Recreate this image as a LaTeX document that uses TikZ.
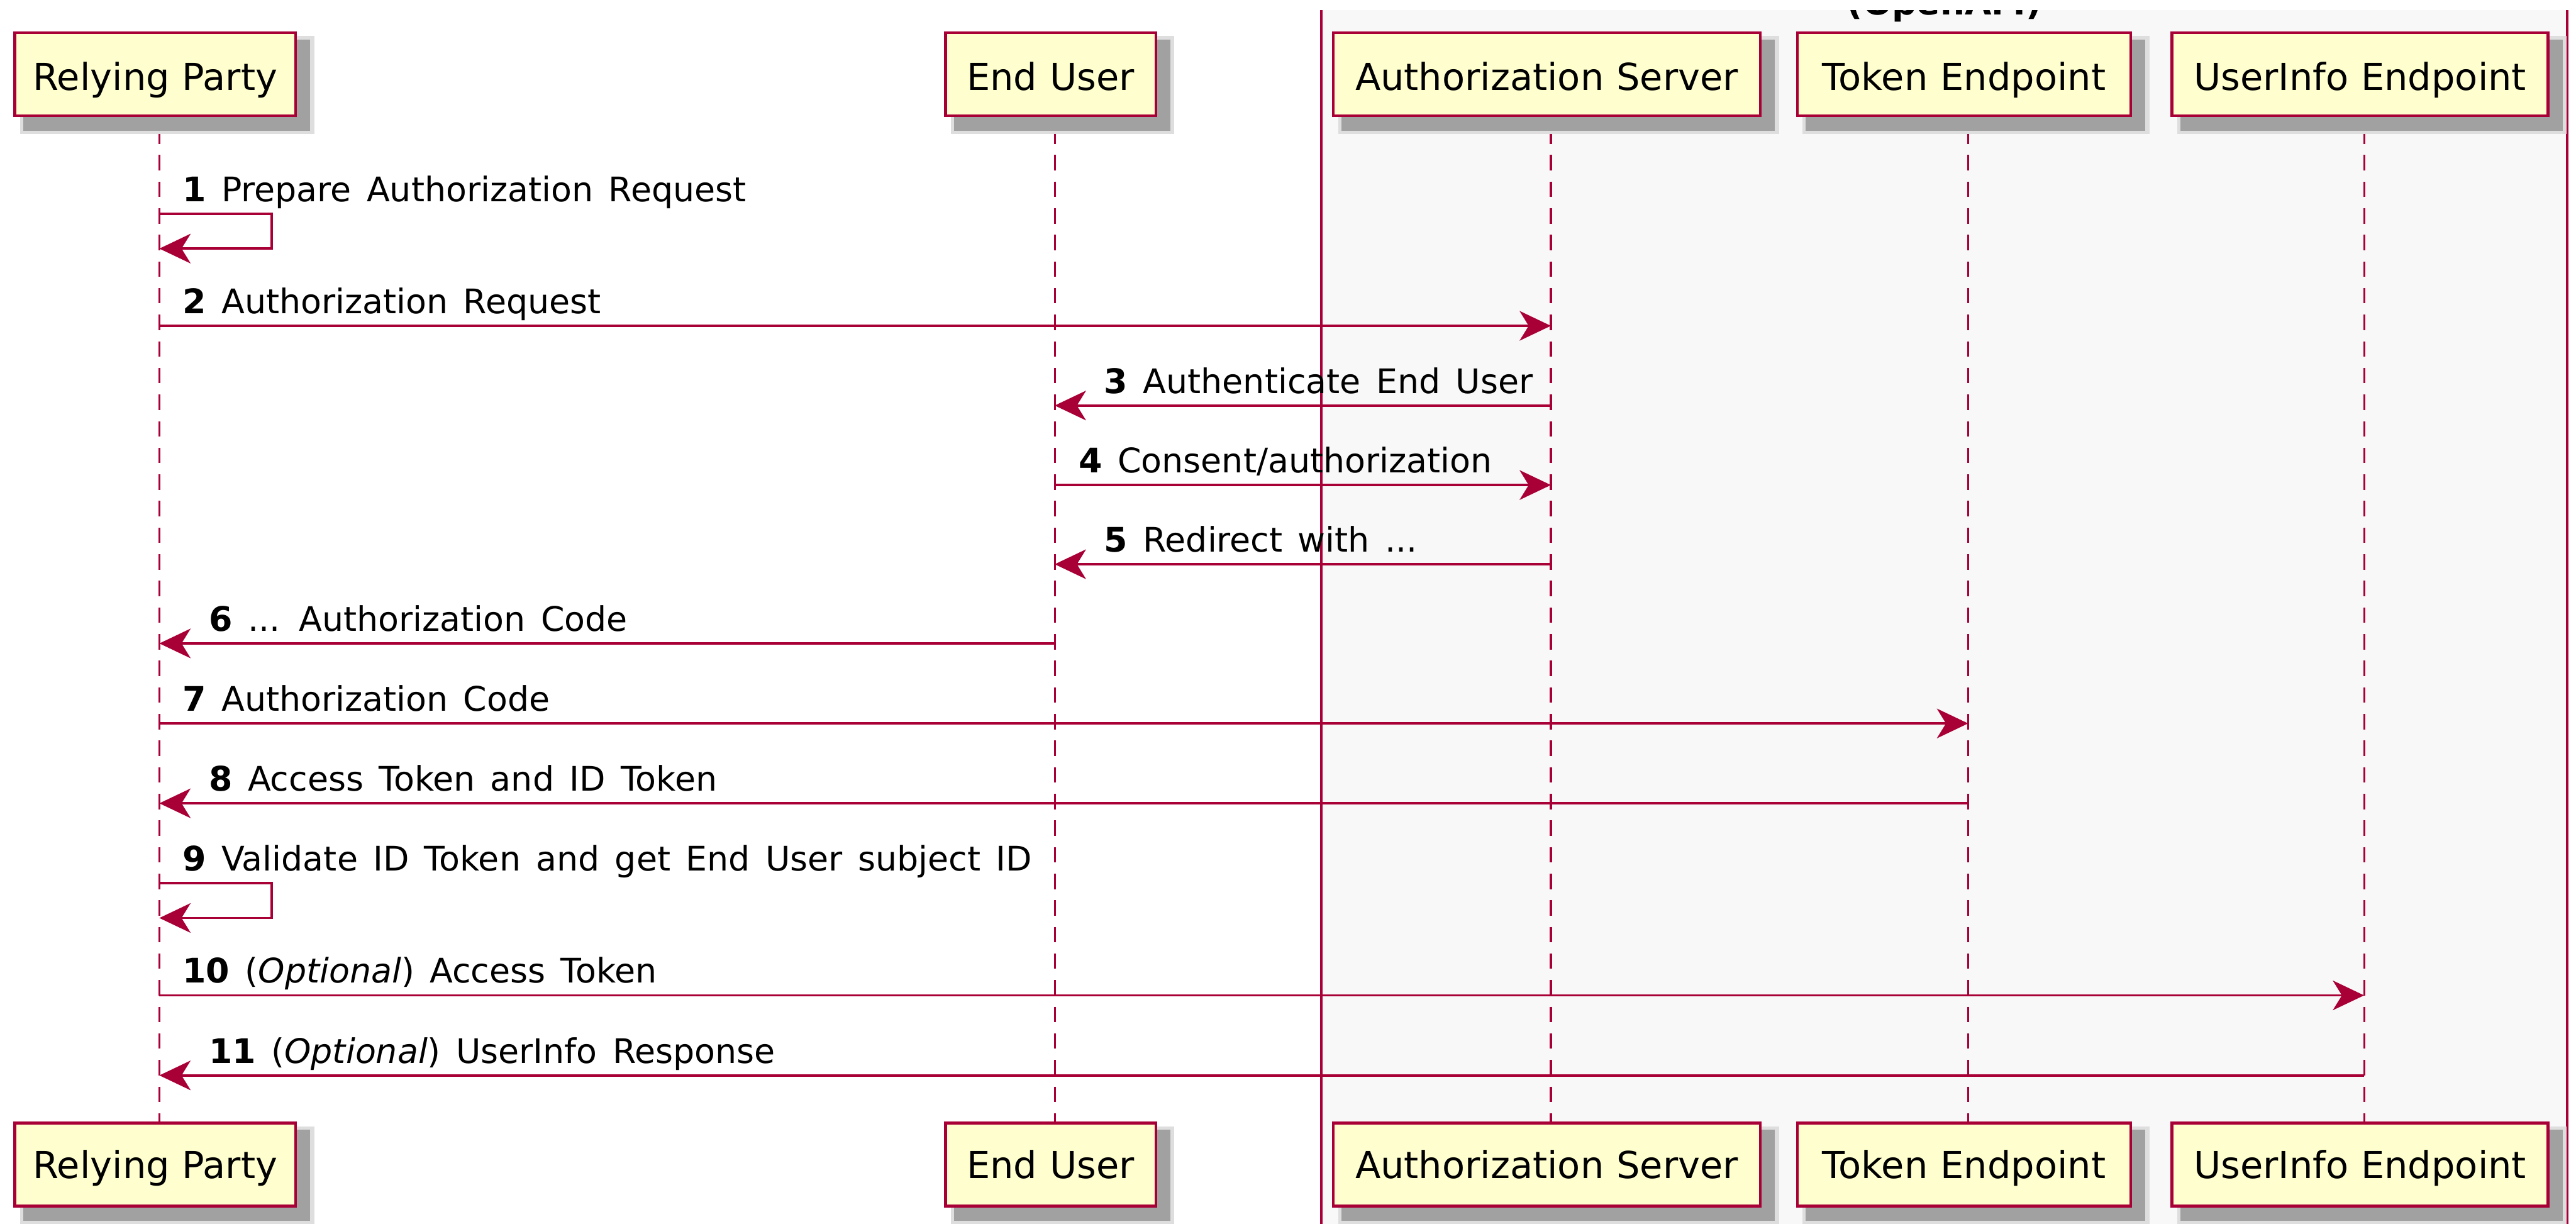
\documentclass[tikz,border=0pt]{standalone}
\usepackage{fontspec}
\setmainfont{DejaVu Sans}
\usetikzlibrary{arrows.meta}
\definecolor{pred}{HTML}{A80036}
\definecolor{pfill}{HTML}{FEFECE}
\definecolor{gfill}{HTML}{F8F8F8}
\pgfdeclarelayer{bg}
\pgfdeclarelayer{shad}
\pgfsetlayers{bg,shad,main}
\newcommand\pshadow[1]{%
  \fill[black!13] ([xshift=4pt,yshift=-3pt]#1.north west) rectangle ([xshift=10.5pt,yshift=-10.5pt]#1.south east);
  \fill[black!37] ([xshift=6pt,yshift=-5pt]#1.north west) rectangle ([xshift=8pt,yshift=-8.3pt]#1.south east);}
\newcommand\partfont{\fontsize{22.6}{26}\selectfont\spaceskip 7.6pt\relax}
\newcommand\msgfont{\fontsize{20.6}{24}\selectfont\spaceskip 9.3pt\relax}
\begin{document}
\begin{tikzpicture}[x=1pt,y=-1pt,
  pbox/.style={draw=pred, line width=1.7pt, fill=pfill, minimum height=50.5pt, inner sep=0pt,
    font=\partfont},
  ptop/.style={pbox, text height=20pt, text depth=0pt},
  pbot/.style={pbox, text height=16.8pt, text depth=0pt},
  lifeline/.style={draw=pred, line width=1.2pt, dash pattern=on 9.4pt off 6.8pt, dash phase=9.3pt},
  msg/.style={draw=pred, line width=1.5pt, -{Stealth[length=19pt,width=18pt,inset=5.5pt]}},
  lbl/.style={anchor=base west, inner sep=0pt, font=\msgfont},
  grpline/.style={draw=pred, line width=1.2pt}]
\useasboundingbox (0,0) rectangle (1568,744.8);

% lifeline x positions and message rows
\coordinate (lRP) at (97,0);
\coordinate (lEU) at (642,0);
\coordinate (lAS) at (944,0);
\coordinate (lTE) at (1198,0);
\coordinate (lUI) at (1439,0);
\coordinate (m1a) at (0,130.3);
\coordinate (m1b) at (0,151.3);
\coordinate (m2) at (0,198.3);
\coordinate (m3) at (0,246.8);
\coordinate (m4) at (0,295.2);
\coordinate (m5) at (0,343.4);
\coordinate (m6) at (0,391.6);
\coordinate (m7) at (0,440.3);
\coordinate (m8) at (0,488.9);
\coordinate (m9a) at (0,537.6);
\coordinate (m9b) at (0,558.7);
\coordinate (m10) at (0,605.8);
\coordinate (m11) at (0,654.5);

% participants (top)
\node[ptop, minimum width=171pt] (rpT) at (94.5,45.1) {Relying Party};
\node[ptop, minimum width=128pt] (euT) at (639.5,45.1) {End User};
\node[ptop, minimum width=260pt] (asT) at (941.5,45.1) {Authorization Server};
\node[ptop, minimum width=203pt] (teT) at (1195.5,45.1) {Token Endpoint};
\node[ptop, minimum width=229pt] (uiT) at (1436.5,45.1) {UserInfo Endpoint};
% participants (bottom)
\node[pbot, minimum width=171pt] (rpB) at (94.5,708.8) {Relying Party};
\node[pbot, minimum width=128pt] (euB) at (639.5,708.8) {End User};
\node[pbot, minimum width=260pt] (asB) at (941.5,708.8) {Authorization Server};
\node[pbot, minimum width=203pt] (teB) at (1195.5,708.8) {Token Endpoint};
\node[pbot, minimum width=229pt] (uiB) at (1436.5,708.8) {UserInfo Endpoint};

\begin{pgfonlayer}{bg}
  \fill[white] (0,0) rectangle (1568,744.8);
  \fill[gfill] (804.3,6.2) rectangle (1562.6,744.8);
  \begin{scope}
    \clip (0,6.2) rectangle (1568,744.8);
    \node[anchor=base, inner sep=0pt, font=\fontsize{21}{25}\selectfont\bfseries] (grp) at (1183.5,9) {(OpenAM)};
  \end{scope}
  \coordinate (gTL) at (804.3,6.2);
  \coordinate (gBL) at (804.3,744.8);
  \coordinate (gTR) at (1562.6,6.2);
  \coordinate (gBR) at (1562.6,744.8);
  \draw[grpline] (gTL) -- (gBL);
  \draw[grpline] (gTR) -- (gBR);
  \draw[lifeline] (rpT.south -| lRP) -- (rpB.north -| lRP);
  \draw[lifeline] (euT.south -| lEU) -- (euB.north -| lEU);
  \draw[lifeline] (asT.south -| lAS) -- (asB.north -| lAS);
  \draw[lifeline] (teT.south -| lTE) -- (teB.north -| lTE);
  \draw[lifeline] (uiT.south -| lUI) -- (uiB.north -| lUI);
\end{pgfonlayer}

\begin{pgfonlayer}{shad}
  \pshadow{rpT}\pshadow{euT}\pshadow{asT}\pshadow{teT}\pshadow{uiT}
  \pshadow{rpB}\pshadow{euB}\pshadow{asB}\pshadow{teB}\pshadow{uiB}
\end{pgfonlayer}

% messages
\draw[msg] (lRP |- m1a) -- ++(68.2,0) |- (lRP |- m1b);
\node[lbl] (t1) at (111,122.8) {\textbf{1} Prepare Authorization Request};

\draw[msg] (lRP |- m2) -- (lAS |- m2);
\node[lbl] (t2) at (111,190.8) {\textbf{2} Authorization Request};

\draw[msg] (lAS |- m3) -- (lEU |- m3);
\node[lbl] (t3) at (672,239.3) {\textbf{3} Authenticate End User};

\draw[msg] (lEU |- m4) -- (lAS |- m4);
\node[lbl] (t4) at (656.5,287.7) {\textbf{4} Consent/authorization};

\draw[msg] (lAS |- m5) -- (lEU |- m5);
\node[lbl] (t5) at (672,335.9) {\textbf{5} Redirect with ...};

\draw[msg] (lEU |- m6) -- (lRP |- m6);
\node[lbl] (t6) at (127,384.1) {\textbf{6} ... Authorization Code};

\draw[msg] (lRP |- m7) -- (lTE |- m7);
\node[lbl] (t7) at (111,432.8) {\textbf{7} Authorization Code};

\draw[msg] (lTE |- m8) -- (lRP |- m8);
\node[lbl] (t8) at (127,481.4) {\textbf{8} Access Token and ID Token};

\draw[msg] (lRP |- m9a) -- ++(68.2,0) |- (lRP |- m9b);
\node[lbl] (t9) at (111,530.1) {\textbf{9} Validate ID Token and get End User subject ID};

\draw[msg] (lRP |- m10) -- (lUI |- m10);
\node[lbl] (t10) at (111,598.3) {\textbf{10} (\textit{Optional}) Access Token};

\draw[msg] (lUI |- m11) -- (lRP |- m11);
\node[lbl] (t11) at (127,647) {\textbf{11} (\textit{Optional}) UserInfo Response};
\end{tikzpicture}
\end{document}
